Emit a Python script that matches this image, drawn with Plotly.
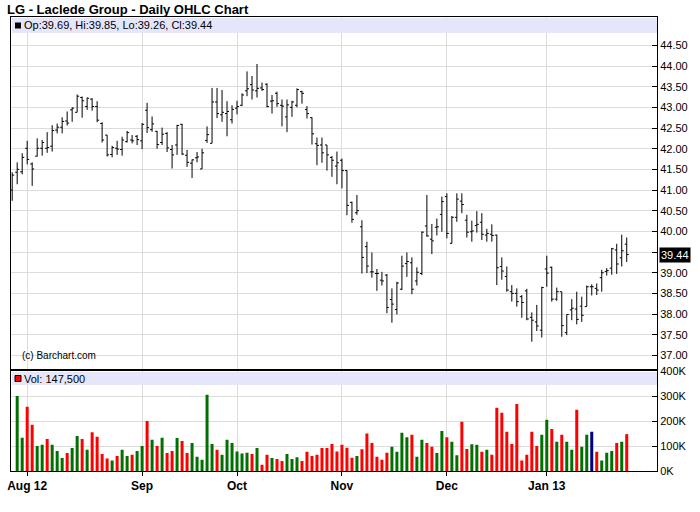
import pandas as pd
import plotly.graph_objects as go

# ---------------- data ----------------
holidays = ["2012-09-03", "2012-10-29", "2012-10-30", "2012-11-22",
            "2012-12-25", "2013-01-01", "2013-01-21"]
dates = [d.strftime("%Y-%m-%d") for d in pd.bdate_range("2012-07-27", "2013-01-25")
         if d.strftime("%Y-%m-%d") not in holidays]

opens = [41.00, 41.43, 41.44, 42.01, 41.63, 41.82, 42.01, 42.01, 42.06, 42.45,
         42.52, 42.67, 42.94, 42.88, 43.24, 43.02, 43.20, 43.02, 42.61, 42.33,
         41.86, 42.01, 41.98, 42.17, 42.21, 42.30, 42.19, 42.93, 42.46, 42.42,
         42.15, 42.37, 41.98, 42.09, 42.59, 41.84, 41.65, 41.78, 41.51, 42.20,
         42.13, 43.13, 42.82, 42.85, 42.70, 42.98, 43.05, 43.40, 43.55, 43.40,
         43.47, 43.56, 43.15, 43.34, 43.05, 42.77, 43.00, 43.05, 43.38, 42.95,
         42.75, 42.12, 42.09, 42.09, 41.79, 41.58, 41.72, 41.47, 40.70, 40.45,
         40.11, 39.63, 39.02, 38.98, 38.82, 38.94, 38.35, 38.11, 38.60, 39.22,
         39.24, 38.80, 38.98, 40.13, 39.81, 40.10, 40.41, 40.84, 39.71, 40.34,
         40.73, 40.27, 39.99, 40.14, 40.22, 39.91, 39.93, 39.91, 39.15, 38.91,
         38.54, 38.50, 38.42, 38.56, 37.92, 37.81, 37.61, 39.09, 39.13, 38.36,
         38.54, 37.55, 38.10, 38.12, 38.19, 38.18, 38.66, 38.62, 38.88, 39.03,
         39.11, 39.55, 39.36, 39.69]
highs = [41.43, 41.67, 41.89, 42.19, 41.67, 42.25, 42.21, 42.40, 42.57, 42.61,
         42.76, 42.90, 43.00, 43.31, 43.26, 43.24, 43.22, 43.15, 42.64, 42.33,
         42.07, 42.19, 42.29, 42.43, 42.33, 42.33, 42.62, 43.11, 42.78, 42.43,
         42.51, 42.40, 42.09, 42.58, 42.60, 41.97, 41.74, 41.92, 42.00, 42.54,
         43.47, 43.47, 43.42, 43.15, 43.05, 43.16, 43.34, 43.87, 43.76, 44.05,
         43.60, 43.58, 43.30, 43.38, 43.19, 43.19, 43.16, 43.46, 43.40, 43.03,
         42.76, 42.27, 42.27, 42.09, 41.82, 41.93, 41.76, 41.48, 40.72, 40.88,
         40.27, 39.75, 39.49, 39.09, 39.02, 38.97, 38.62, 38.78, 39.41, 39.49,
         39.37, 39.13, 40.00, 40.88, 40.18, 40.31, 40.84, 40.92, 40.37, 40.92,
         40.92, 40.40, 40.26, 40.49, 40.44, 40.06, 40.17, 39.92, 39.37, 39.15,
         38.70, 38.62, 38.46, 38.61, 38.04, 38.22, 38.66, 39.41, 39.15, 38.64,
         38.54, 37.99, 38.36, 38.54, 38.42, 38.69, 38.72, 38.74, 39.07, 39.11,
         39.60, 39.70, 39.92, 39.85]
lows = [40.74, 41.14, 41.38, 41.62, 41.10, 41.81, 41.83, 41.90, 41.93, 42.37,
        42.37, 42.56, 42.65, 42.88, 42.75, 42.94, 42.92, 42.64, 42.15, 41.81,
        41.79, 41.85, 41.83, 42.15, 42.13, 42.09, 41.99, 42.38, 42.41, 42.00,
        42.09, 41.92, 41.52, 41.85, 41.85, 41.56, 41.29, 41.67, 41.51, 42.14,
        42.13, 42.74, 42.65, 42.30, 42.61, 42.83, 43.03, 43.27, 43.19, 43.24,
        43.40, 43.00, 42.85, 43.01, 42.54, 42.40, 42.77, 43.00, 43.09, 42.73,
        42.10, 41.60, 41.66, 41.47, 41.32, 41.14, 41.04, 40.39, 40.21, 40.40,
        38.98, 38.99, 38.88, 38.56, 38.69, 38.02, 37.79, 37.99, 38.58, 38.90,
        38.48, 38.69, 38.94, 39.87, 39.45, 39.90, 39.99, 39.83, 39.71, 40.23,
        40.44, 39.85, 39.75, 39.97, 39.79, 39.75, 39.75, 38.70, 38.83, 38.54,
        38.30, 38.18, 37.91, 37.85, 37.33, 37.59, 37.43, 38.66, 38.30, 38.32,
        37.45, 37.49, 37.85, 37.75, 37.81, 38.18, 38.45, 38.46, 38.54, 38.93,
        38.95, 38.97, 39.15, 39.26]
closes = [41.36, 41.50, 41.79, 41.74, 41.51, 42.01, 42.15, 42.03, 42.44, 42.52,
          42.66, 42.62, 42.98, 43.27, 43.16, 43.22, 43.02, 42.69, 42.21, 41.85,
          42.03, 41.99, 42.21, 42.39, 42.19, 42.22, 42.59, 42.51, 42.60, 42.10,
          42.35, 42.02, 41.85, 42.56, 41.87, 41.67, 41.73, 41.80, 41.90, 42.34,
          43.13, 42.85, 42.88, 42.90, 42.95, 43.02, 43.30, 43.45, 43.42, 43.46,
          43.43, 43.02, 43.16, 43.09, 43.03, 43.06, 43.13, 43.43, 43.34, 42.85,
          42.36, 42.08, 41.90, 41.85, 41.72, 41.66, 41.47, 40.63, 40.29, 40.50,
          39.37, 39.16, 39.02, 38.98, 38.80, 38.16, 38.24, 38.75, 39.16, 39.27,
          38.60, 39.01, 39.98, 39.89, 39.77, 40.11, 40.72, 39.95, 40.34, 40.78,
          40.65, 39.98, 40.01, 40.17, 39.93, 39.95, 39.90, 39.12, 39.04, 38.58,
          38.50, 38.30, 38.28, 37.88, 37.85, 37.71, 38.64, 38.99, 38.36, 38.54,
          37.72, 37.99, 38.14, 37.87, 37.97, 38.66, 38.66, 38.58, 39.00, 39.05,
          39.58, 39.21, 39.53, 39.44]
volumes = [None, 300000, 133000, 257000, 185000, 100000, 105000, 128000, 105000, 80000,
           52000, 72000, 92000, 140000, 128000, 85000, 155000, 137000, 68000, 50000,
           42000, 60000, 85000, 60000, 65000, 80000, 100000, 200000, 125000, 100000,
           133000, 72000, 80000, 132000, 120000, 72000, 112000, 57000, 45000, 305000,
           108000, 85000, 65000, 125000, 112000, 78000, 70000, 73000, 68000, 92000,
           25000, 65000, 52000, 48000, 40000, 68000, 48000, 55000, 40000, 77000,
           60000, 65000, 92000, 92000, 108000, 78000, 105000, 93000, 53000, 60000,
           87000, 150000, 112000, 57000, 45000, 73000, 97000, 77000, 153000, 135000,
           145000, 57000, 125000, 112000, 97000, 72000, 160000, 135000, 117000, 63000,
           197000, 88000, 107000, 105000, 77000, 85000, 65000, 253000, 233000, 157000,
           108000, 268000, 42000, 65000, 157000, 100000, 145000, 205000, 168000, 117000,
           145000, 117000, 85000, 245000, 97000, 145000, 157000, 77000, 42000, 73000,
           80000, 112000, 117000, 147500]

month_ticks = ["2012-08-01", "2012-09-04", "2012-10-01", "2012-11-01", "2012-12-03", "2013-01-02"]
month_labels = ["Aug 12", "Sep", "Oct", "Nov", "Dec", "Jan 13"]
price_ticks = [37.0, 37.5, 38.0, 38.5, 39.0, 39.5, 40.0, 40.5, 41.0, 41.5,
               42.0, 42.5, 43.0, 43.5, 44.0, 44.5]
# the 39.50 label is covered by the last-price box in the reference
price_tick_labels = ["37.00", "37.50", "38.00", "38.50", "39.00", "", "40.00", "40.50",
                     "41.00", "41.50", "42.00", "42.50", "43.00", "43.50", "44.00", "44.50"]
vol_ticks = [0, 100000, 200000, 300000, 400000]
vol_tick_labels = ["0K", "100K", "200K", "300K", "400K"]

title_text = "LG - Laclede Group - Daily OHLC Chart"
last_label = "Op:39.69, Hi:39.85, Lo:39.26, Cl:39.44"
vol_label = "Vol: 147,500"
last_close = closes[-1]

# ---------------- styling helpers ----------------
W, H = 700, 512
L, R, T, B = 11, 43, 17, 41
PW, PH = W - L - R, H - T - B
GREEN, RED, NAVY = "#007000", "#ff0000", "#000080"
GRID = "#dcdcdc"
BAND = "#e6e6fa"
FONT = "Liberation Sans, Arial, sans-serif"


def fx(px):
    return (px - L) / PW


def fy(py):
    return (H - B - py) / PH


vol_colors = [GREEN]
for i in range(1, len(closes)):
    d = round(closes[i] - closes[i - 1], 4)
    vol_colors.append(GREEN if d > 0 else (RED if d < 0 else NAVY))

fig = go.Figure()
fig.add_trace(go.Ohlc(
    x=dates, open=opens, high=highs, low=lows, close=closes,
    increasing=dict(line=dict(color="black", width=1)),
    decreasing=dict(line=dict(color="black", width=1)),
    tickwidth=0.4, xaxis="x", yaxis="y", hoverinfo="skip"))
fig.add_trace(go.Bar(
    x=dates, y=volumes, marker=dict(color=vol_colors, line=dict(width=0)),
    width=0.6, xaxis="x2", yaxis="y2", hoverinfo="skip"))

price_dom = [fy(369), 1.0]
vol_dom = [0.0, fy(371)]
xr = [-0.24, 129.06]
yr_price = [36.67, 45.186]

axis_common = dict(showline=True, mirror=True, linecolor="black", linewidth=1,
                   zeroline=False, showgrid=True, gridcolor=GRID, gridwidth=1,
                   automargin=False)

fig.update_layout(
    width=W, height=H, margin=dict(l=L, r=R, t=T, b=B, pad=0, autoexpand=False),
    paper_bgcolor="white", plot_bgcolor="white", showlegend=False,
    font=dict(family=FONT, size=11, color="black"),
    xaxis=dict(type="category", domain=[0, 1], anchor="y", range=xr,
               rangeslider=dict(visible=False), tickvals=month_ticks,
               showticklabels=False, ticks="", **axis_common),
    xaxis2=dict(type="category", domain=[0, 1], anchor="y2", matches="x", range=xr,
                tickvals=month_ticks, ticktext=month_labels, ticks="outside",
                ticklen=4, tickcolor="black",
                tickfont=dict(family=FONT, size=12, color="black", weight="bold"),
                **axis_common),
    yaxis=dict(domain=price_dom, anchor="x", range=yr_price, side="right",
               tickvals=price_ticks, ticktext=price_tick_labels, ticks="inside",
               ticklen=5, tickcolor="black", tickfont=dict(size=11),
               **axis_common),
    yaxis2=dict(domain=vol_dom, anchor="x2", range=[0, 400000], side="right",
                tickvals=vol_ticks, ticktext=vol_tick_labels, ticks="inside",
                ticklen=5, tickcolor="black", tickfont=dict(size=11),
                **axis_common),
)

shapes = [
    # price legend band
    dict(type="rect", xref="paper", yref="paper", x0=fx(12), x1=1, y0=fy(33), y1=fy(18),
         fillcolor=BAND, line=dict(width=0), layer="above"),
    dict(type="rect", xref="paper", yref="paper", x0=fx(15), x1=fx(21), y0=fy(28.5), y1=fy(22.5),
         fillcolor="black", line=dict(width=0), layer="above"),
    # volume legend band
    dict(type="rect", xref="paper", yref="paper", x0=fx(12), x1=1, y0=fy(385), y1=fy(372),
         fillcolor=BAND, line=dict(width=0), layer="above"),
    dict(type="rect", xref="paper", yref="paper", x0=fx(15), x1=fx(21), y0=fy(381.5), y1=fy(375.5),
         fillcolor=RED, line=dict(color="black", width=1), layer="above"),
    # thick separator
    dict(type="line", xref="paper", yref="paper", x0=0, x1=1, y0=fy(370), y1=fy(370),
         line=dict(color="black", width=2), layer="above"),
]

annotations = [
    dict(text="<b>" + title_text + "</b>", xref="paper", yref="paper", x=fx(5), y=fy(10),
         xanchor="left", yanchor="middle", showarrow=False,
         font=dict(family=FONT, size=13, color="black")),
    dict(text=last_label, xref="paper", yref="paper", x=fx(22), y=fy(25.5),
         xanchor="left", yanchor="middle", showarrow=False,
         font=dict(family=FONT, size=11, color="black")),
    dict(text=vol_label, xref="paper", yref="paper", x=fx(22), y=fy(378.5),
         xanchor="left", yanchor="middle", showarrow=False,
         font=dict(family=FONT, size=11, color="black")),
    dict(text="(c) Barchart.com", xref="paper", yref="paper", x=fx(20), y=fy(356),
         xanchor="left", yanchor="middle", showarrow=False,
         font=dict(family=FONT, size=10, color="black")),
    dict(text=f"{last_close:.2f}", xref="paper", yref="y", x=1, y=last_close,
         xanchor="left", yanchor="middle", xshift=2, showarrow=False,
         bgcolor="black", borderpad=1,
         font=dict(family=FONT, size=11, color="white")),
]

fig.update_layout(shapes=shapes, annotations=annotations)
# remove the browser's default 8px page margin so the 700x512 figure fills the window
fig.write_html("out.html",
               config={"displayModeBar": False, "staticPlot": True},
               post_script="document.body.style.margin='0';document.body.style.overflow='hidden';")
